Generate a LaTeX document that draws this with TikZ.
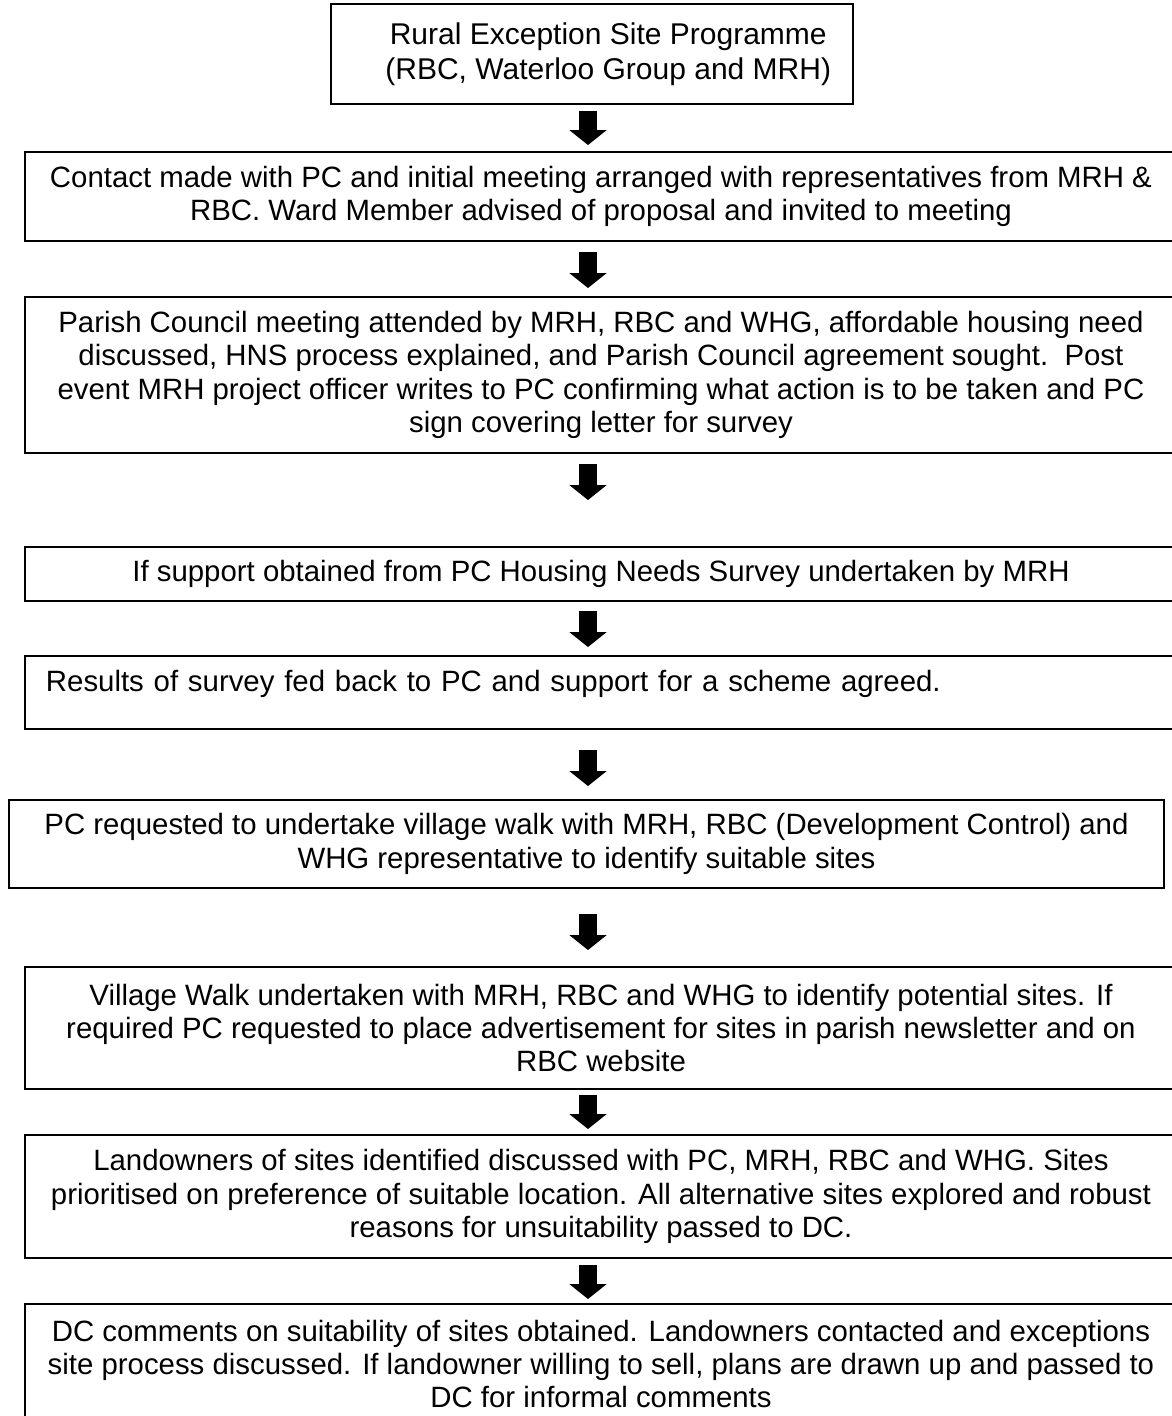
\documentclass[tikz,border=0pt]{standalone}
\usepackage{fontspec}
\setmainfont{Liberation Sans}
\usetikzlibrary{arrows.meta}

\begin{document}
\begin{tikzpicture}[x=0.4pt, y=-0.4pt, line width=0.8pt,
      every node/.append style={font=\fontsize{11.75}{13.3}\selectfont,align=center,inner sep=0pt},
      stepdown/.style={line width=7pt,-{Triangle[width=15pt,length=6pt,line width=0pt]}}]
    \tikzstyle{stage} = [draw,anchor=north west,minimum width=460.8pt]
    \useasboundingbox (0,0) rectangle (1172,1416);
    \coordinate (mid) at (588,0);
    \node (programme) [stage,minimum width=208.8pt,minimum height=40pt,font=\fontsize{12}{13.8}\selectfont] at (330,3)
      {\hspace*{13pt}Rural Exception Site Programme\\\hspace*{13pt}(RBC, Waterloo Group and MRH)};
    \node (contact) [stage,minimum height=35.6pt] at (24,151)
      {Contact made with PC and initial meeting arranged with representatives from MRH \&\\
       RBC. Ward Member advised of proposal and invited to meeting};
    \node (meeting) [stage,minimum height=62.4pt] at (24,296)
      {Parish Council meeting attended by MRH, RBC and WHG, affordable housing need\\
       discussed, HNS process explained, and Parish Council agreement sought.\ \ Post\\
       event MRH project officer writes to PC confirming what action is to be taken and PC\\
       sign covering letter for survey};
    \node (survey) [stage,minimum height=21.6pt] at (24,546)
      {If support obtained from PC Housing Needs Survey undertaken by MRH};
    \node (results) [stage,minimum height=29.2pt,text width=444pt,align=left] at (24,655)
      {Results of survey fed back to PC and support for a scheme agreed.\rule[-9pt]{0pt}{9pt}};
    \node (walk) [stage,minimum width=462pt,minimum height=35.2pt] at (8,799)
      {PC requested to undertake village walk with MRH, RBC (Development Control) and\\
       WHG representative to identify suitable sites};
    \node (village) [stage,minimum height=48.8pt] at (24,966)
      {Village Walk undertaken with MRH, RBC and WHG to identify potential sites. If\\
       required PC requested to place advertisement for sites in parish newsletter and on\\
       RBC website};
    \node (landowners) [stage,minimum height=49.2pt] at (24,1134)
      {Landowners of sites identified discussed with PC, MRH, RBC and WHG. Sites\\
       prioritised on preference of suitable location. All alternative sites explored and robust\\
       reasons for unsuitability passed to DC.};
    \node (comments) [stage,minimum height=48pt] at (24,1303)
      {DC comments on suitability of sites obtained. Landowners contacted and exceptions\\
       site process discussed. If landowner willing to sell, plans are drawn up and passed to\\
       DC for informal comments};
    \draw[stepdown,shorten <=2.4pt,shorten >=2.4pt] (programme.south -| mid) -- (contact.north -| mid);
    \draw[stepdown,shorten <=4pt,shorten >=3.2pt] (contact.south -| mid) -- (meeting.north -| mid);
    \draw[stepdown,shorten <=4pt,shorten >=18.4pt] (meeting.south -| mid) -- (survey.north -| mid);
    \draw[stepdown,shorten <=3.6pt,shorten >=3.2pt] (survey.south -| mid) -- (results.north -| mid);
    \draw[stepdown,shorten <=8pt,shorten >=5.2pt] (results.south -| mid) -- (walk.north -| mid);
    \draw[stepdown,shorten <=10pt,shorten >=6.4pt] (walk.south -| mid) -- (village.north -| mid);
    \draw[stepdown,shorten <=2pt,shorten >=2pt] (village.south -| mid) -- (landowners.north -| mid);
    \draw[stepdown,shorten <=2.4pt,shorten >=1.6pt] (landowners.south -| mid) -- (comments.north -| mid);
\end{tikzpicture}
\end{document}
